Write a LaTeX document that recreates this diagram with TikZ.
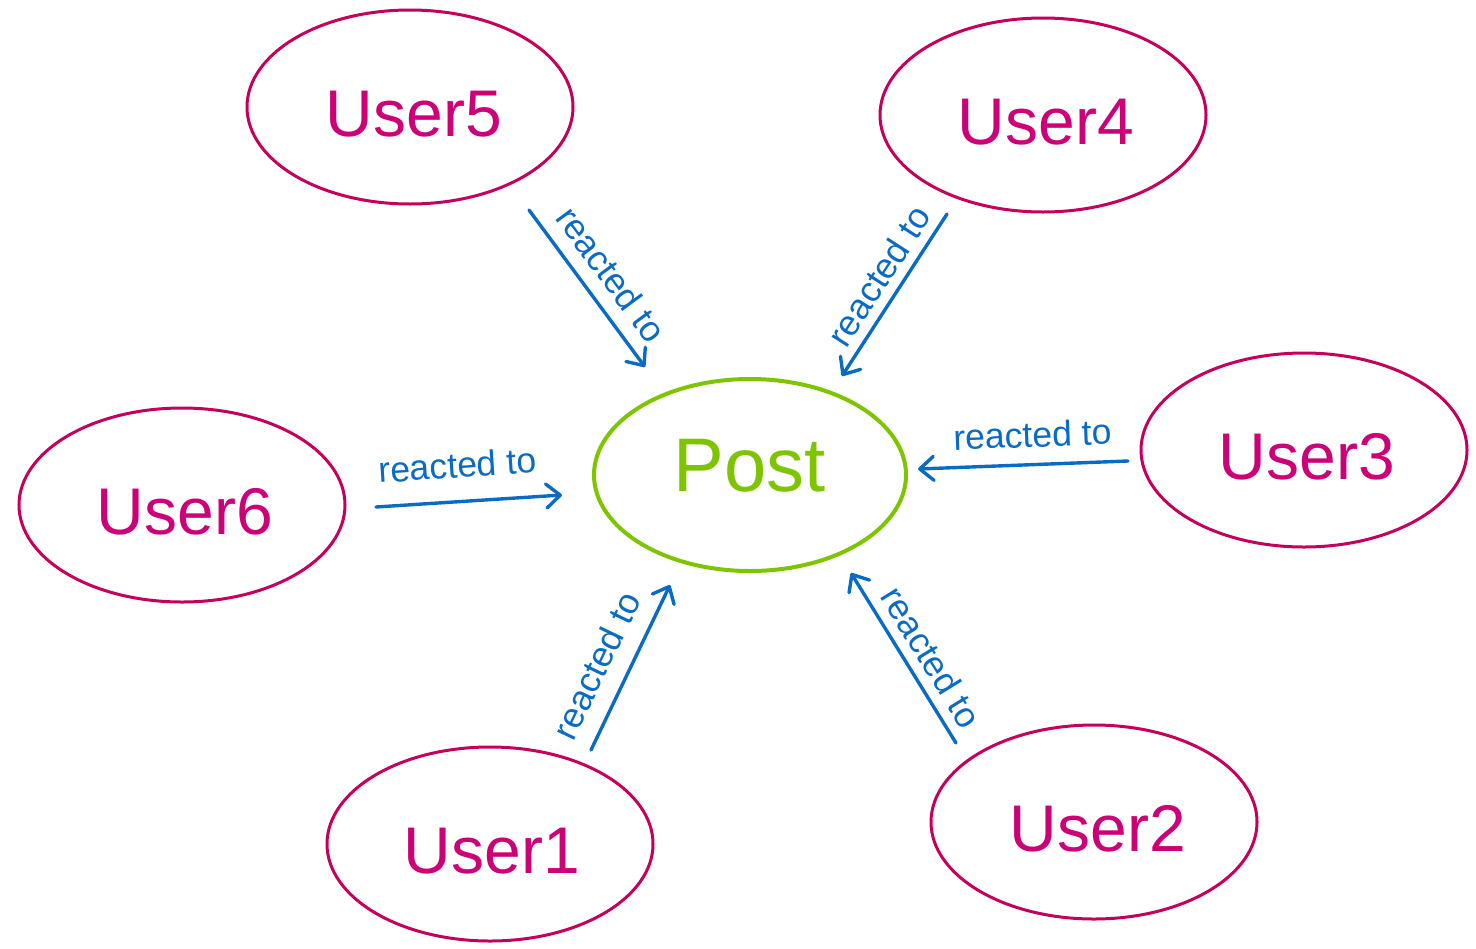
\documentclass[tikz,border=0pt]{standalone}
\usepackage{fontspec}
\setmainfont{Liberation Sans}
\usetikzlibrary{shapes.geometric,arrows.meta}
\definecolor{userline}{HTML}{C4005C}
\definecolor{usertext}{HTML}{CC0077}
\definecolor{postgreen}{HTML}{7FC400}
\definecolor{arrowblue}{HTML}{0A6BC4}
\tikzset{
  user/.style={ellipse, draw=userline, line width=1.5pt, text=usertext,
    minimum width=163pt, minimum height=97pt, inner sep=0pt,
    font=\fontsize{33}{37}\selectfont},
  usertxt/.style={text=usertext, inner sep=0pt, font=\fontsize{33}{37}\selectfont},
  post/.style={ellipse, draw=postgreen, line width=2pt,
    minimum width=156pt, minimum height=96pt, inner sep=0pt},
  posttxt/.style={text=postgreen, inner sep=0pt, font=\fontsize{38}{42}\selectfont},
  rel/.style={draw=arrowblue, line width=1.7pt, line cap=round,
    -{Straight Barb[length=7pt,width=12pt,line width=1.7pt,round]}},
  lbl/.style={sloped, text=arrowblue, font=\fontsize{17.8}{20}\selectfont, inner sep=3.33pt}
}
\begin{document}
\begin{tikzpicture}[x=0.5pt,y=-0.5pt]
\useasboundingbox (0,0) rectangle (1476,948);
\node[post] (post) at (750,475) {};
\node[posttxt] (postlabel) at (750,466) {Post};
\node[user] (u5) at (410,107) {};
\node[usertxt] (u5t) at (414,114) {User5};
\node[user] (u4) at (1043,115) {};
\node[usertxt] (u4t) at (1046,122) {User4};
\node[user] (u3) at (1304,450) {};
\node[usertxt] (u3t) at (1307,457) {User3};
\node[user] (u6) at (182,505) {};
\node[usertxt] (u6t) at (185,512) {User6};
\node[user] (u1) at (490,844) {};
\node[usertxt] (u1t) at (492,851) {User1};
\node[user] (u2) at (1094,822) {};
\node[usertxt] (u2t) at (1098,829) {User2};
% connector ends
\coordinate (s5) at (529,210); \coordinate (e5) at (645,367);
\coordinate (s4) at (947,214); \coordinate (e4) at (842,376);
\coordinate (s3) at (1128,461); \coordinate (e3) at (918,469);
\coordinate (s6) at (376,507); \coordinate (e6) at (562,495);
\coordinate (s1) at (591,750); \coordinate (e1) at (670,585);
\coordinate (s2) at (956,743); \coordinate (e2) at (851,573);
\draw[rel] (s5) -- node[lbl, pos=0.515, above=3.3pt] {reacted to} (e5);
\draw[rel] (s4) -- node[lbl, pos=0.46, above=1.1pt] {reacted to} (e4);
\draw[rel] (s3) -- node[lbl, pos=0.45, above=4.4pt] {reacted to} (e3);
\draw[rel] (s6) -- node[lbl, pos=0.45, above=7.6pt] {reacted to} (e6);
\draw[rel] (s1) -- node[lbl, pos=0.43, above=5.1pt] {reacted to} (e1);
\draw[rel] (s2) -- node[lbl, pos=0.43, above=1.4pt] {reacted to} (e2);
\end{tikzpicture}
\end{document}
